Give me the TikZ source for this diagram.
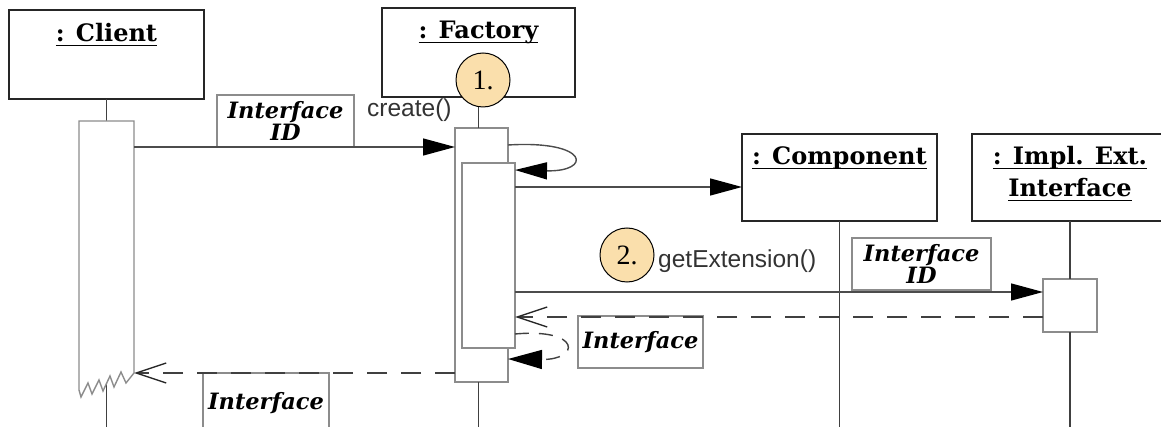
\documentclass[tikz,border=0pt]{standalone}
\usepackage{fontspec}
\setmainfont{Liberation Serif}
\newfontfamily\titlefont{DejaVu Serif}
\newfontfamily\msgfont{Liberation Sans}
\usetikzlibrary{arrows.meta}
\definecolor{numfill}{RGB}{250,223,172}
\newcommand\ulbox[1]{\setbox0\hbox{#1}\rlap{\rule[-4.5pt]{\wd0}{1.6pt}}\box0}
\tikzset{
  objbox/.style={draw=black!85, line width=1.6pt, fill=white, inner sep=0pt, outer sep=0pt},
  actbox/.style={draw=black!45, line width=1.4pt, fill=white, inner sep=0pt, outer sep=0pt},
  lifeline/.style={draw=black!75, line width=1.5pt},
  titletext/.style={font=\titlefont\bfseries\fontsize{24}{26}\selectfont, inner sep=0pt, anchor=base},
  lbl/.style={draw=black!45, line width=1.3pt, fill=white, inner sep=0pt, outer sep=0pt,
    font=\titlefont\bfseries\itshape\fontsize{22.5}{19}\selectfont, align=center},
  msg/.style={line width=1.4pt, draw=black!70, -{Triangle[length=32pt,width=17pt,color=black]}},
  ret/.style={line width=1.4pt, draw=black!75, dash pattern=on 20pt off 14pt,
    -{Straight Barb[length=30pt,width=20pt,color=black!85]}},
  num/.style={circle, draw=black, line width=1pt, fill=numfill, minimum size=54pt, inner sep=0pt,
    font=\fontsize{28}{28}\selectfont},
  call/.style={font=\msgfont\fontsize{24.5}{24}\selectfont, anchor=base west, inner sep=0pt, text=black!80},
}
\begin{document}
\begin{tikzpicture}[x=1pt,y=-1pt]
\useasboundingbox (0,0) rectangle (1161,427);
\clip (0,0) rectangle (1161,427);
\coordinate (bottom) at (0,432);
% object boxes
\node[objbox, minimum width=195pt, minimum height=89pt] (client) at (106.5,54.5) {};
\node[objbox, minimum width=193pt, minimum height=89pt] (factory) at (478.5,52.5) {};
\node[objbox, minimum width=195pt, minimum height=87pt] (component) at (839.5,177.5) {};
\node[objbox, minimum width=198pt, minimum height=87pt] (impl) at (1071,177.5) {};
\node[titletext] (tclient) at (106.5,42) {\ulbox{: Client}};
\node[titletext] (tfactory) at (478.5,39) {\ulbox{: Factory}};
\node[titletext] (tcomp) at (839.5,165) {\ulbox{: Component}};
\node[titletext] (timpl1) at (1070,165) {\ulbox{: Impl. Ext.}};
\node[titletext] (timpl2) at (1070,197) {\ulbox{Interface}};
% activation boxes (placement)
\node[minimum width=55pt, minimum height=269pt, inner sep=0pt, outer sep=0pt] (clientact) at (106.5,255.5) {};
\node[actbox, minimum width=53pt, minimum height=254pt] (act1) at (481.5,255) {};
\node[actbox, minimum width=53pt, minimum height=185pt] (act2) at (488.5,255.5) {};
\node[actbox, minimum width=54pt, minimum height=53pt] (implact) at (1070,305.5) {};
% lifelines
\draw[lifeline] (client.south) -- (clientact.north);
\draw[lifeline] (clientact.center |- 0,383) -- (clientact.center |- bottom);
\draw[lifeline] (factory.south) -- (factory.south |- act1.north);
\draw[lifeline] (factory.south |- act1.south) -- (factory.south |- bottom);
\draw[lifeline] (component.south) -- (component.south |- bottom);
\draw[lifeline] (implact.north |- impl.south) -- (implact.north);
\draw[lifeline] (implact.south) -- (implact.south |- bottom);
% client activation with broken bottom
\draw[draw=black!45, line width=1.4pt, fill=white, line join=miter]
  (clientact.south west) -- (clientact.north west) -- (clientact.north east) -- (clientact.east |- 0,373)
  -- (126,383) -- (121,372) -- (114,387) -- (110,376) -- (103,391) -- (99,380) -- (92,394)
  -- (88,383) -- (81,397) -- (clientact.south west);
% create message
\node[lbl, minimum width=137pt, minimum height=52pt] (lblid1) at (285.5,121) {Interface\\ID};
\draw[msg] (clientact.east |- 0,147) -- (act1.west |- 0,147);
\node[call] (create) at (367,117) {create()};
% self call
\draw[msg] (act1.east |- 0,145) .. controls (590,140) and (592,172) .. (act2.east |- 0,170);
% create component
\draw[msg] (act2.east |- 0,187) -- (component.west |- 0,187);
% getExtension
\node[lbl, minimum width=139pt, minimum height=52pt] (lblid2) at (921.5,264) {Interface\\ID};
\draw[msg] (act2.east |- 0,292) -- (implact.west |- 0,292);
\node[num] (n2) at (627,255) {2.};
\node[call] (getext) at (658,268) {getExtension()};
% return interface
\node[lbl, minimum width=125pt, minimum height=52pt] (lblif1) at (640.5,342) {Interface};
\draw[ret] (implact.west |- 0,317) -- (act2.east |- 0,317);
% self return
\draw[line width=1.4pt, draw=black!75, dash pattern=on 14pt off 10pt, -{Triangle[length=34pt,width=19pt,color=black]}]
  (act2.east |- 0,334) .. controls (582,328) and (580,360) .. (act1.east |- 0,359);
% return to client
\node[lbl, minimum width=126pt, minimum height=60pt] (lblif2) at (266,403) {Interface};
\draw[ret] (act1.west |- 0,373) -- (clientact.east |- 0,373);
% step 1
\node[num] (n1) at (483,80) {1.};
\end{tikzpicture}
\end{document}
